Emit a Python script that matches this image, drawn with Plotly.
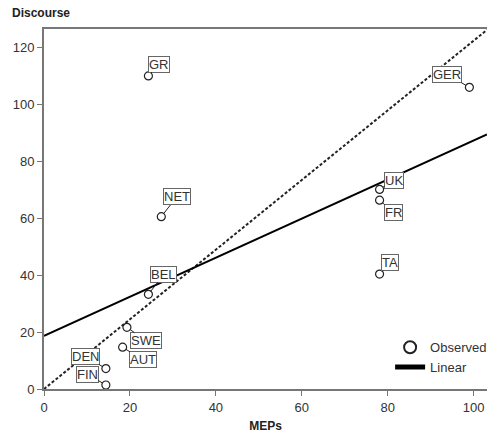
import numpy as np
import plotly.graph_objects as go

# ---- data ----
countries = ["GR", "NET", "GER", "UK", "FR", "TA", "BEL", "SWE", "AUT", "DEN", "FIN"]
meps      = [24.3, 27.3, 99.0, 78.1, 78.1, 78.1, 24.3, 19.3, 18.3, 14.4, 14.4]
discourse = [110.1, 60.6, 106.1, 70.2, 66.4, 40.4, 33.3, 21.7, 14.7, 7.2, 1.4]
x_ticks = [0, 20, 40, 60, 80, 100]
y_ticks = [0, 20, 40, 60, 80, 100, 120]
ref_slope = 1.225   # dotted reference line through the origin

# ---- layout constants (positions / styles) ----
X_MAX, Y_MAX = 103.1, 126.6
label_offsets = {
    "GR": (10.5, -11.8), "NET": (15.3, -19.7), "GER": (-22, -12.6),
    "UK": (14.5, -9.3), "FR": (14, 12.5), "TA": (10.7, -11.5),
    "BEL": (15.3, -19.8), "SWE": (18.8, 13.3), "AUT": (20, 12.7),
    "DEN": (-20.5, -12), "FIN": (-18.5, -11),
}
FONT = "Liberation Sans, Arial, sans-serif"
INK = "#222222"
AXIS = "#777777"

slope, intercept = np.polyfit(meps, discourse, 1)
line_x = [0, X_MAX]

fig = go.Figure()
fig.add_trace(go.Scatter(
    x=line_x, y=[ref_slope * v for v in line_x], mode="lines",
    line=dict(color=INK, width=2, dash="3px,2px"), showlegend=False,
    hoverinfo="skip"))
fig.add_trace(go.Scatter(
    x=meps, y=discourse, mode="markers", name="Observed",
    marker=dict(symbol="circle-open", size=8, color=INK, line=dict(width=1.2, color=INK)),
    text=countries))
fig.add_trace(go.Scatter(
    x=line_x, y=[intercept + slope * v for v in line_x], mode="lines",
    name="Linear", line=dict(color="black", width=2)))

for c, xv, yv in zip(countries, meps, discourse):
    ax, ay = label_offsets[c]
    fig.add_annotation(
        x=xv, y=yv, text=c, showarrow=True, arrowhead=0, arrowwidth=1,
        arrowcolor=INK, ax=ax, ay=ay, standoff=4,
        font=dict(family=FONT, size=13, color="#333333"),
        bgcolor="white", bordercolor="#666666", borderwidth=1, borderpad=0)

fig.update_layout(
    width=487, height=435,
    margin=dict(l=43.5, r=0, t=29, b=46.3, autoexpand=False),
    paper_bgcolor="white", plot_bgcolor="white",
    font=dict(family=FONT, size=13, color="#333333"),
    title=dict(text="<b>Discourse</b>", xref="container", yref="container",
               x=12 / 487, y=1 - 12.7 / 435, xanchor="left", yanchor="middle",
               font=dict(family=FONT, size=12, color="#222222")),
    legend=dict(x=(390 - 43.5) / 443.5, y=(388.7 - 332) / 359.7,
                xanchor="left", yanchor="top", bgcolor="rgba(0,0,0,0)",
                font=dict(family=FONT, size=13, color="#333333"),
                itemwidth=30, tracegroupgap=0, itemsizing="constant"),
    showlegend=True,
)
fig.update_xaxes(
    range=[0, X_MAX], tickvals=x_ticks, ticks="outside", ticklen=5,
    tickcolor=AXIS, tickwidth=1, showline=True, linecolor=AXIS, linewidth=2,
    mirror=True, showgrid=False, zeroline=False, automargin=False,
    tickfont=dict(family=FONT, size=13, color="#333333"),
    title=dict(text="<b>MEPs</b>", standoff=8,
               font=dict(family=FONT, size=12, color="#222222")))
fig.update_yaxes(
    range=[0, Y_MAX], tickvals=y_ticks, ticks="outside", ticklen=5,
    tickcolor=AXIS, tickwidth=1, showline=True, linecolor=AXIS, linewidth=2,
    showgrid=False, zeroline=False, automargin=False,
    tickfont=dict(family=FONT, size=13, color="#333333"))

fig.write_html("out.html", config={"displayModeBar": False},
               post_script="document.body.style.margin='0px';document.body.style.overflow='hidden';")
